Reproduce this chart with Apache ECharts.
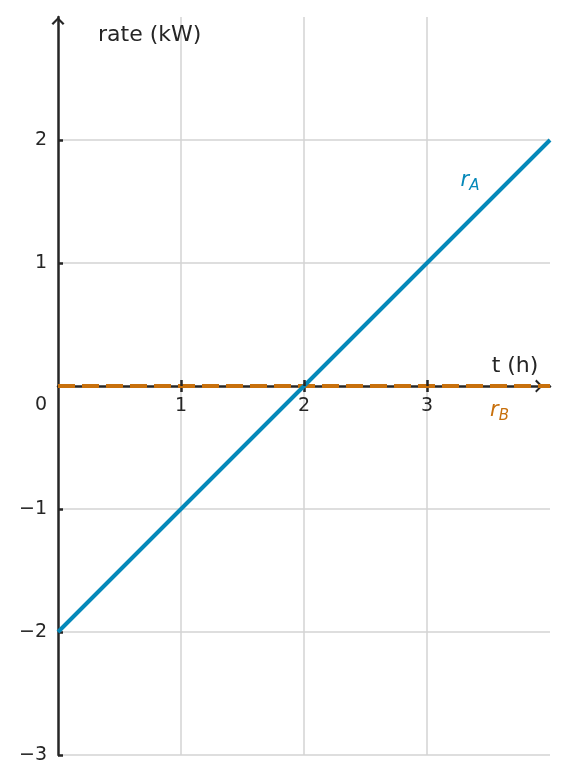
<!DOCTYPE html>
<html>
<head>
<meta charset="utf-8">
<script src="https://cdn.jsdelivr.net/npm/echarts@6/dist/echarts.min.js"></script>
<style>
html,body{margin:0;padding:0;background:#fff;}
#chart{width:567px;height:783px;}
</style>
</head>
<body>
<div id="chart"></div>
<script>
// ---- data ----
const tValues = [0, 1, 2, 3, 4];
const rA = [-2, -1, 0, 1, 2];
const rB = [0, 0, 0, 0, 0];
const xTicks = [1, 2, 3];
const yTicks = [-3, -2, -1, 1, 2];
const xRange = [0, 4];
const yRange = [-3, 3];
const xName = 't (h)';
const yName = 'rate (kW)';
const labelA = { sym: 'r', sub: 'A', at: [3.35, 1.67] };
const labelB = { sym: 'r', sub: 'B', at: [3.59, -0.2] };
const originLabel = '0';

const BLUE = '#0588b9';
const ORANGE = '#c8700c';
const INK = '#262626';
const GRID = '#d3d3d3';
const FONT = 'DejaVu Sans';
const TICK_FS = 19;
const NAME_FS = 22;

const arrowPath = 'path://M0,10 L10,0 L20,10 L17.5,12 L10,4.5 L2.5,12 Z';

function pairs(xs, ys) { return xs.map((x, i) => [x, ys[i]]); }
function minusFmt(v) { return String(v).replace('-', '\u2212'); }

const richLabel = (color) => ({
  i: { fontFamily: FONT, fontStyle: 'italic', fontSize: 21, color: color, lineHeight: 26, verticalAlign: 'middle' },
  s: { fontFamily: FONT, fontStyle: 'italic', fontSize: 15, color: color, lineHeight: 15, verticalAlign: 'bottom' }
});

const textPoint = (coord, text, offset, style) => ({
  coord: coord,
  label: Object.assign({ show: true, position: 'inside', offset: offset, formatter: text,
    fontFamily: FONT, fontSize: TICK_FS, color: INK }, style || {})
});

const chart = echarts.init(document.getElementById('chart'), null, { renderer: 'canvas' });
chart.setOption({
  animation: false,
  backgroundColor: '#fff',
  grid: { left: 58, right: 17, top: 17, bottom: 28, containLabel: false },
  xAxis: [
    {
      type: 'value', min: xRange[0], max: xRange[1], interval: 1,
      position: 'bottom', z: 1,
      axisLine: {
        show: true, onZero: true, onZeroAxisIndex: 0,
        symbol: ['none', arrowPath], symbolSize: [13, 8], symbolOffset: [0, -11],
        lineStyle: { color: INK, width: 2.5 }
      },
      axisTick: { show: true, inside: false, length: 6, customValues: xTicks, lineStyle: { color: INK, width: 2.5 } },
      axisLabel: { show: false, customValues: xTicks },
      splitLine: { show: true, lineStyle: { color: GRID, width: 1.5 } }
    },
    {
      type: 'value', min: xRange[0], max: xRange[1], interval: 1,
      position: 'top', z: 10,
      axisLine: { show: false, onZero: true, onZeroAxisIndex: 0 },
      axisTick: { show: true, inside: false, length: 6, customValues: xTicks, lineStyle: { color: INK, width: 2.5 } },
      axisLabel: { show: false },
      splitLine: { show: false }
    }
  ],
  yAxis: {
    type: 'value', min: yRange[0], max: yRange[1], interval: 1, z: 1,
    axisLine: {
      show: true, onZero: false,
      symbol: ['none', arrowPath], symbolSize: [13, 8], symbolOffset: [0, -4],
      lineStyle: { color: INK, width: 2.5 }
    },
    axisTick: { show: true, inside: true, length: 5, customValues: yTicks, lineStyle: { color: INK, width: 2.5 } },
    axisLabel: { show: true, customValues: yTicks, margin: 11, fontFamily: FONT, fontSize: TICK_FS, color: INK, formatter: minusFmt },
    splitLine: { show: true, lineStyle: { color: GRID, width: 1.5 } },
    name: yName, nameLocation: 'end', nameGap: -18,
    nameTextStyle: { fontFamily: FONT, fontSize: NAME_FS, color: INK, align: 'left', verticalAlign: 'middle', padding: [0, 0, 0, 40] }
  },
  series: [
    {
      type: 'line', name: 'rB', data: pairs(tValues, rB), z: 3,
      showSymbol: false, symbol: 'none',
      lineStyle: { color: ORANGE, width: 4, type: [17, 7], cap: 'butt' },
      markPoint: {
        symbol: 'circle', symbolSize: 0, silent: true,
        itemStyle: { color: 'rgba(0,0,0,0)' },
        data: [
          { coord: labelB.at, label: { show: true, position: 'inside', formatter: '{i|' + labelB.sym + '}{s|' + labelB.sub + '}', rich: richLabel(ORANGE) } },
          textPoint([xRange[0], 0], originLabel, [-17, 19]),
          textPoint([xRange[1], 0], xName, [-35, -20], { fontSize: NAME_FS })
        ].concat(xTicks.map(v => textPoint([v, 0], String(v), [0, 20])))
      }
    },
    {
      type: 'line', name: 'rA', data: pairs(tValues, rA), z: 4,
      showSymbol: false, symbol: 'none',
      lineStyle: { color: BLUE, width: 4 },
      markPoint: {
        symbol: 'circle', symbolSize: 0, silent: true,
        itemStyle: { color: 'rgba(0,0,0,0)' },
        data: [
          { coord: labelA.at, label: { show: true, position: 'inside', formatter: '{i|' + labelA.sym + '}{s|' + labelA.sub + '}', rich: richLabel(BLUE) } }
        ]
      }
    }
  ]
});
</script>
</body>
</html>
